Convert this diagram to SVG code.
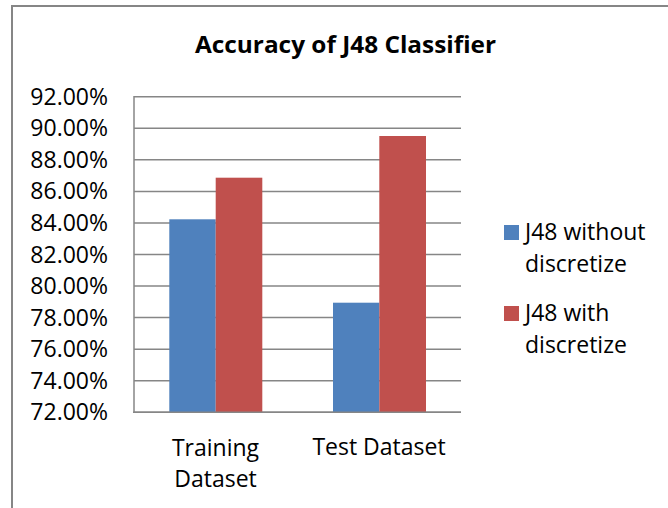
<svg xmlns="http://www.w3.org/2000/svg" width="668" height="508" viewBox="0 0 668 508">
  <style>
    .lbl { font-family: "Open Sans", "Liberation Sans", sans-serif; font-size: 23px; fill: #000; }
    .tick { text-anchor: end; }
    .mid { text-anchor: middle; }
    .grid { stroke: #868686; stroke-width: 1.5; fill: none; }
    .blue { fill: #4F81BD; }
    .red { fill: #C0504D; }
  </style>
  <rect x="0" y="0" width="668" height="508" fill="#fff"/>
  <rect id="frame" x="12" y="6" width="670" height="520" fill="#fff" stroke="#868686" stroke-width="2"/>
  <text id="title" x="345.5" y="53" text-anchor="middle" textLength="301" lengthAdjust="spacingAndGlyphs" style="font-family: 'Open Sans', 'Liberation Sans', sans-serif; font-size: 24px; font-weight: bold; fill: #000;">Accuracy of J48 Classifier</text>
  <g id="gridlines">
    <line class="grid" x1="134" y1="96.7" x2="461" y2="96.7"/>
    <line class="grid" x1="134" y1="128.3" x2="461" y2="128.3"/>
    <line class="grid" x1="134" y1="159.8" x2="461" y2="159.8"/>
    <line class="grid" x1="134" y1="191.4" x2="461" y2="191.4"/>
    <line class="grid" x1="134" y1="223" x2="461" y2="223"/>
    <line class="grid" x1="134" y1="254.5" x2="461" y2="254.5"/>
    <line class="grid" x1="134" y1="286.1" x2="461" y2="286.1"/>
    <line class="grid" x1="134" y1="317.6" x2="461" y2="317.6"/>
    <line class="grid" x1="134" y1="349.2" x2="461" y2="349.2"/>
    <line class="grid" x1="134" y1="380.7" x2="461" y2="380.7"/>
    <line class="grid" x1="134" y1="412.3" x2="461" y2="412.3"/>
  </g>
  <g id="y-axis-labels" class="lbl tick">
    <text x="108" y="104.7">92.00%</text>
    <text x="108" y="136.3">90.00%</text>
    <text x="108" y="167.8">88.00%</text>
    <text x="108" y="199.4">86.00%</text>
    <text x="108" y="231">84.00%</text>
    <text x="108" y="262.5">82.00%</text>
    <text x="108" y="294.1">80.00%</text>
    <text x="108" y="325.6">78.00%</text>
    <text x="108" y="357.2">76.00%</text>
    <text x="108" y="388.7">74.00%</text>
    <text x="108" y="420.3">72.00%</text>
  </g>
  <g id="bars">
    <rect id="train-without" class="blue" x="169.3" y="219.3" width="46.4" height="193"/>
    <rect id="train-with" class="red" x="215.7" y="177.7" width="46.6" height="234.6"/>
    <rect id="test-without" class="blue" x="333" y="302.7" width="46.3" height="109.6"/>
    <rect id="test-with" class="red" x="379.3" y="136" width="46.7" height="276.3"/>
  </g>
  <g id="axes">
    <line class="grid" x1="134" y1="96" x2="134" y2="413"/>
    <line class="grid" x1="133" y1="412.3" x2="461" y2="412.3"/>
  </g>
  <g id="x-axis-labels" class="lbl mid">
    <text x="215.5" y="456">Training</text>
    <text x="215.5" y="487">Dataset</text>
    <text x="379" y="455">Test Dataset</text>
  </g>
  <g id="legend">
    <g id="legend-without">
      <rect class="blue" x="504" y="225" width="15" height="15"/>
      <text class="lbl" x="525" y="240">J48 without</text>
      <text class="lbl" x="525" y="272">discretize</text>
    </g>
    <g id="legend-with">
      <rect class="red" x="504" y="306" width="15" height="15"/>
      <text class="lbl" x="525" y="321">J48 with</text>
      <text class="lbl" x="525" y="353">discretize</text>
    </g>
  </g>
</svg>
